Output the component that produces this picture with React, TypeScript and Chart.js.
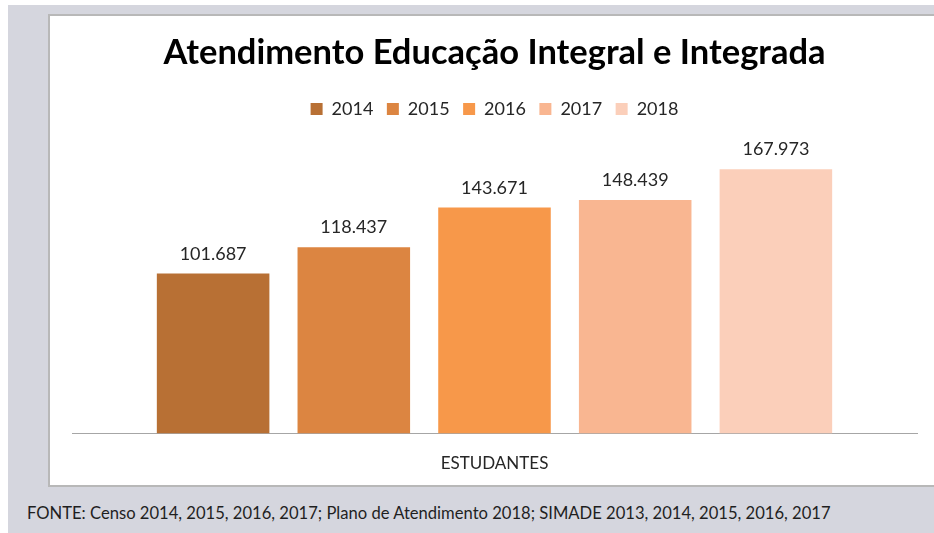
import React, { useEffect, useRef } from "react";
import { Chart, registerables } from "chart.js";

Chart.register(...registerables);

const titleText = "Atendimento Educação Integral e Integrada";
const categories = ["ESTUDANTES"];
const seriesLabels = ["2014", "2015", "2016", "2017", "2018"];
const seriesValues = [101687, 118437, 143671, 148439, 167973];
const seriesColors = ["#b87034", "#dc8541", "#f7984a", "#f9b691", "#fbcfba"];
const footerText =
  "FONTE: Censo 2014, 2015, 2016, 2017; Plano de Atendimento 2018; SIMADE 2013, 2014, 2015, 2016, 2017";

const FONT = "Lato, 'Open Sans', sans-serif";

function formatPt(v: number): string {
  const s = Math.round(v).toString();
  return s.replace(/\B(?=(\d{3})+(?!\d))/g, ".");
}

const valueLabels = {
  id: "valueLabels",
  afterDatasetsDraw(chart: any) {
    const ctx = chart.ctx;
    ctx.save();
    ctx.font = `18px ${FONT}`;
    ctx.fillStyle = "#262626";
    ctx.textAlign = "center";
    ctx.textBaseline = "alphabetic";
    chart.data.datasets.forEach((ds: any, i: number) => {
      const meta = chart.getDatasetMeta(i);
      meta.data.forEach((el: any, j: number) => {
        ctx.fillText(formatPt(ds.data[j]), el.x, el.y - 14);
      });
    });
    ctx.restore();
  },
};

export default function App() {
  const ref = useRef<HTMLCanvasElement | null>(null);

  useEffect(() => {
    document.body.style.margin = "0";
    if (!ref.current) return;
    const chart = new Chart(ref.current, {
      type: "bar",
      data: {
        labels: categories,
        datasets: seriesLabels.map((label, i) => ({
          label,
          data: [seriesValues[i]],
          backgroundColor: seriesColors[i],
          borderWidth: 0,
          categoryPercentage: 0.8325,
          barPercentage: 0.8,
        })),
      },
      options: {
        responsive: false,
        animation: false,
        layout: { padding: { left: 72, right: 17, top: 0, bottom: 39 } },
        plugins: {
          title: {
            display: true,
            text: titleText,
            color: "#000",
            font: { family: FONT, size: 34.5, weight: "bold" },
            padding: { top: 32, bottom: 13 },
          },
          legend: {
            display: true,
            position: "top",
            labels: {
              boxWidth: 12,
              boxHeight: 12,
              padding: 13.5,
              color: "#262626",
              font: { family: FONT, size: 18 },
            },
          },
          tooltip: { enabled: false },
        },
        scales: {
          x: {
            grid: { display: false, drawTicks: false },
            border: { display: true, color: "#a6a6a6", width: 1 },
            ticks: {
              color: "#262626",
              padding: 20,
              font: { family: FONT, size: 17 },
            },
          },
          y: { display: false, min: 0, max: 194300 },
        },
      },
      plugins: [valueLabels],
    });
    return () => chart.destroy();
  }, []);

  return (
    <div style={{ position: "relative", width: 934, height: 533, background: "#fff", overflow: "hidden" }}>
      <div style={{ position: "absolute", left: 8, top: 5, width: 926, height: 528, background: "#d5d6de" }} />
      <div
        style={{
          position: "absolute",
          left: 48,
          top: 14,
          width: 900,
          height: 469,
          background: "#fff",
          border: "2px solid #b8b8b8",
          borderRight: "none",
        }}
      />
      <div
        style={{
          position: "absolute",
          left: 27,
          top: 503,
          fontFamily: FONT,
          fontSize: 16.6,
          color: "#1f1f1f",
          whiteSpace: "nowrap",
          lineHeight: "20px",
        }}
      >
        {footerText}
      </div>
      <canvas ref={ref} width={934} height={533} style={{ position: "absolute", left: 0, top: 0 }} />
    </div>
  );
}
